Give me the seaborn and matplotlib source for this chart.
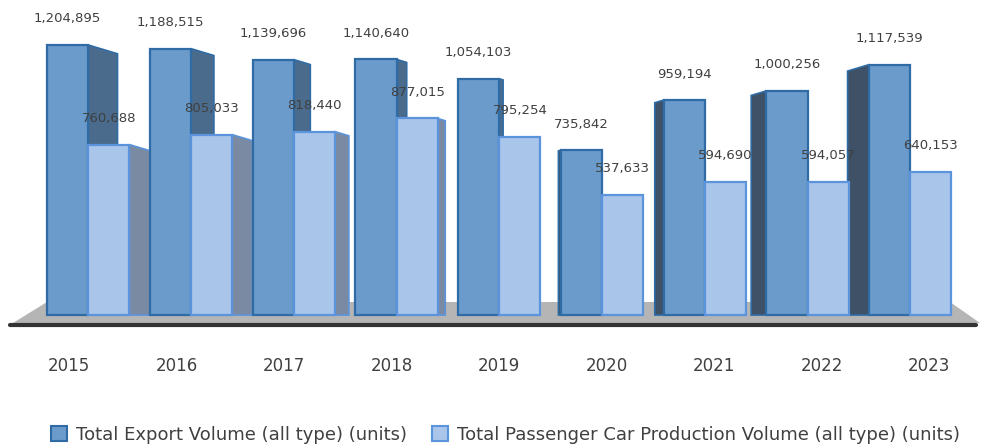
import matplotlib
matplotlib.use("Agg")
import matplotlib.pyplot as plt
import seaborn as sns
import pandas as pd
from matplotlib.patches import Polygon, Patch
from matplotlib.lines import Line2D

years = ["2015", "2016", "2017", "2018", "2019", "2020", "2021", "2022", "2023"]
export_volume = [1204895, 1188515, 1139696, 1140640, 1054103, 735842, 959194, 1000256, 1117539]
production_volume = [760688, 805033, 818440, 877015, 795254, 537633, 594690, 594057, 640153]
series_names = ["Total Export Volume (all type) (units)",
                "Total Passenger Car Production Volume (all type) (units)"]

df = pd.DataFrame({
    "Year": years * 2,
    "Series": [series_names[0]] * len(years) + [series_names[1]] * len(years),
    "Units": export_volume + production_volume,
})

front_colors = ["#6a9bcb", "#a9c5ea"]
edge_colors = ["#2f6ca5", "#5b94dc"]
TEXT = "#404040"

sns.set_theme(style="white")
plt.rcParams["font.family"] = ["DejaVu Sans"]

W, H = 981, 445
fig = plt.figure(figsize=(W / 100, H / 100), dpi=100)
ax = fig.add_axes([6 / W, 110 / H, 966 / W, 335 / H])

sns.barplot(data=df, x="Year", y="Units", hue="Series", palette=front_colors,
            width=0.8, saturation=1, ax=ax, legend=False, zorder=3)

ax.set_xlim(-0.8, 8.6)
ax.set_ylim(-89000, 1405600)

xpx = ax.transData.transform((1, 0))[0] - ax.transData.transform((0, 0))[0]
ypx = ax.transData.transform((0, 1e6))[1] - ax.transData.transform((0, 0))[1]
centre = 4.4

for si, cont in enumerate(ax.containers):
    for bar in cont.patches:
        bar.set_edgecolor(edge_colors[si])
        bar.set_linewidth(1.6)
        x0 = bar.get_x()
        w = bar.get_width()
        h = bar.get_height()
        xc = x0 + w / 2
        d = 0.062 * (centre - xc)  # depth of side face (data units); sign = side
        drop = 0.3 * abs(d) * xpx / ypx * 1e6
        edge = x0 + w if d > 0 else x0
        if si == 0:
            side_col = "#4b6b8d" if d > 0 else "#3e5166"
        else:
            side_col = "#7b8aa3"
        if abs(d) * xpx > 2:
            poly = Polygon([(edge, 0), (edge, h), (edge + d, h - drop), (edge + d, 0)],
                           closed=True, facecolor=side_col, edgecolor=edge_colors[si],
                           linewidth=1.2, zorder=2)
            ax.add_patch(poly)
        ax.annotate(f"{int(h):,}", (xc, h), xytext=(0, 26), textcoords="offset pixels",
                    ha="center", va="center", fontsize=9.5, color=TEXT, zorder=6)

# floor
floor = Polygon([(13 / W, 1 - 323 / H), (47 / W, 1 - 302 / H), (950 / W, 1 - 302 / H),
                 (980 / W, 1 - 323 / H)], closed=True, transform=fig.transFigure,
                facecolor="#b5b5b5", edgecolor="none", zorder=1, clip_on=False)
ax.add_patch(floor)
base = Line2D([10 / W, 976 / W], [1 - 325 / H, 1 - 325 / H], transform=fig.transFigure,
              color="#333333", linewidth=3, solid_capstyle="round", zorder=1, clip_on=False)
ax.add_line(base)

# year labels, spread slightly by perspective
tick_pos = [4 + (i - 4) * 1.046 for i in range(len(years))]
ax.set_xticks(tick_pos)
ax.set_xticklabels(years, fontsize=12, color=TEXT)
ax.tick_params(axis="x", length=0, pad=16)
ax.set_yticks([])
ax.set_xlabel("")
ax.set_ylabel("")
for s in ax.spines.values():
    s.set_visible(False)
ax.patch.set_alpha(0)

handles = [Patch(facecolor=front_colors[i], edgecolor=edge_colors[i], linewidth=1.5)
           for i in range(2)]
fig.legend(handles, series_names, loc="center", bbox_to_anchor=(0.5 + 15 / W, 10 / H),
           ncol=2, frameon=False, fontsize=13, handlelength=0.9, handleheight=0.9,
           handletextpad=0.5, columnspacing=1.4, labelcolor=TEXT,
           borderpad=0, borderaxespad=0)

fig.savefig("out.png", dpi=100)
